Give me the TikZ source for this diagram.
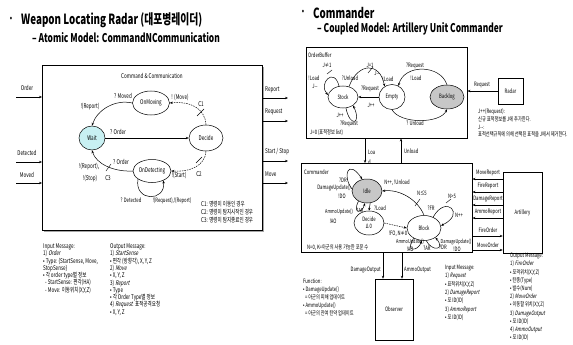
\documentclass[tikz,border=0pt]{standalone}
\usepackage{fontspec}
\setmainfont{Noto Sans CJK KR}[FakeStretch=0.7,ItalicFont=Noto Sans CJK KR,ItalicFeatures={FakeSlant=0.2}]
\usetikzlibrary{shapes.geometric,arrows.meta}
\newcommand\fs[1]{\fontsize{#1}{#1}\selectfont}
\begin{document}
\begin{tikzpicture}[x=1pt,y=-1pt,
 every node/.style={inner sep=0pt},
 st/.style={ellipse,draw,line width=0.5pt,font=\fs{6.5}},
 st2/.style={ellipse,draw,line width=0.5pt,font=\fs{6}},
 lab/.style={font=\fs{6.5}},
 rl/.style={font=\fs{6}},
 arr/.style={line width=0.5pt,-{Stealth[length=3pt,width=2.4pt]}},
 dsh/.style={arr,dash pattern=on 1.5pt off 1pt},
 box/.style={draw,line width=0.5pt,anchor=north west},
 tk/.style={line width=0.4pt},
 blk/.style={align=left,anchor=north west}]
\useasboundingbox (0,0) rectangle (573,345);
% ---------------- titles
\node[font=\fs{10}] (b1) at (11,19) {•};
\node[anchor=west,font=\fs{14}\bfseries] (t1) at (21,20) {Weapon Locating Radar (대포병레이더)};
\node[anchor=west,font=\fs{12}\bfseries] (t1s) at (32,38) {– Atomic Model: CommandNCommunication};
\node[font=\fs{10}] (b2) at (303,12) {•};
\node[anchor=west,font=\fs{14}\bfseries] (t2) at (313,13) {Commander};
\node[anchor=west,font=\fs{12}\bfseries] (t2s) at (317,29) {– Coupled Model: Artillery Unit Commander};
% ---------------- left model
\fill[black!35] (44,67) rectangle (264,232);
\node[box,fill=white,minimum width=220,minimum height=165] (cc) at (42,65) {};
\node[lab] (cctitle) at (152,76) {Command \& Communication};
\node[st,fill={rgb,255:red,200;green,240;blue,242},minimum width=26,minimum height=24] (wait) at (92,138) {Wait};
\node[st,minimum width=37,minimum height=24] (onmov) at (151,103) {OnMoving};
\node[st,minimum width=38,minimum height=23] (ondet) at (152,171) {OnDetecting};
\node[st,minimum width=34,minimum height=26] (decide) at (206,138) {Decide};
% inputs
\coordinate (iO) at (16,97);
\coordinate (iD) at (16,162);
\coordinate (iM) at (16,183);
\draw[arr] (iO) -- (iO -| cc.west);
\draw[arr] (iD) -- (iD -| cc.west);
\draw[arr] (iM) -- (iM -| cc.west);
\node[lab] (lO) at (27,88) {Order};
\node[lab] (lD) at (27,153) {Detected};
\node[lab] (lM) at (27,175) {Moved};
% outputs
\coordinate (oR) at (288,98);
\coordinate (oQ) at (288,121);
\coordinate (oS) at (288,161);
\coordinate (oV) at (288,183);
\draw[arr] (oR -| cc.east) -- (oR);
\draw[arr] (oQ -| cc.east) -- (oQ);
\draw[arr] (oS -| cc.east) -- (oS);
\draw[arr] (oV -| cc.east) -- (oV);
\node[lab,anchor=west] (lR) at (265,90) {Report};
\node[lab,anchor=west] (lQ) at (265,112) {Request};
\node[lab,anchor=west] (lS) at (265,152) {Start / Stop};
\node[lab,anchor=west] (lV) at (265,174) {Move};
% transitions
\draw[arr] (onmov.west) .. controls (115,99) and (97,110) .. (wait.north);
\node[lab] at (123,96) {? Moved};
\node[lab] at (90,107) {!(Report)};
\draw[dsh] (decide.north) .. controls (205,108) and (190,101) .. (onmov.east);
\draw[tk] (197,116) -- (204,109);
\node[lab] at (180,97) {! (Move)};
\node[lab] at (201,104) {C1};
\draw[arr] (wait.east) -- (decide.west);
\node[lab] at (118,132) {? Order};
\draw[arr] (ondet.west) .. controls (114,172) and (96,164) .. (wait.south);
\draw[tk] (106,171) -- (111,164);
\node[lab] at (121,162) {? Order};
\node[lab] at (108,178) {C3};
\node[lab] at (89,167) {!(Report),};
\node[lab] at (90,179) {!(Stop)};
\draw[dsh] (decide.south) .. controls (205,166) and (190,172) .. (ondet.east);
\draw[tk] (196,163) -- (202,157);
\node[lab] at (199,174) {C2};
\node[lab] at (179,175) {!(Start)};
\draw[arr] (ondet.-150) .. controls (134,202) and (166,202) .. (ondet.-40);
\node[font=\fs{6}] at (131,200.5) {? Detected};
\node[font=\fs{6}] at (172,200.5) {!(Request),!(Report)};
\node[lab,anchor=west] at (201,204) {C1: 명령이 이동인 경우};
\node[lab,anchor=west] at (201,212) {C2: 명령이 탐지시작인 경우};
\node[lab,anchor=west] at (201,220) {C3: 명령이 탐지종료인 경우};
% message lists
\node[blk,font=\fontsize{6.5}{7.3}\selectfont] (inmsg) at (43,243.5) {Input Message:\\1) \textit{Order}\\• Type: \{StartSense, Move,\\StopSense\}\\• 각 order type별 정보\\\ \ - StartSense: 편각(HA)\\\ \ - Move: 이동위치(X,Y,Z)};
\node[blk,font=\fontsize{6.5}{7.3}\selectfont] (outmsg) at (110,243.5) {Output Message:\\1) \textit{StartSense}\\• 편각 (방향각), X, Y, Z\\2) \textit{Move}\\• X, Y, Z\\3) \textit{Report}\\• Type\\• 각 Order Type별 정보\\4) \textit{Request}: 표적공격요청\\• X, Y, Z};
% ---------------- right: order buffer
\node[box,minimum width=161,minimum height=91] (ob) at (306,47) {};
\node[rl,anchor=west] at (308,55) {OrderBuffer};
\node[st2,minimum width=30,minimum height=22] (stock) at (343,97) {Stock};
\node[st2,minimum width=26,minimum height=25] (empty) at (392,97) {Empty};
\node[st2,fill=black!22,minimum width=34,minimum height=24] (backlog) at (447,97) {Backlog};
\draw[arr] (empty.west) -- (stock.east);
\node[rl] at (370,89) {?Request};
\node[rl] at (371,105) {J++};
\draw[arr] (stock.60) .. controls (358,62) and (380,62) .. (empty.125);
\draw[tk] (368,73) -- (373,67);
\node[rl] at (350,78) {?Unload};
\node[rl] at (370,65) {J=1};
\node[rl] at (377,73) {J-{}-};
\node[rl] at (388,79) {!Load};
\draw[arr] (stock.110) .. controls (334,66) and (318,84) .. (stock.172);
\draw[tk] (327,74) -- (332,70);
\node[rl] at (327,65) {J≠1};
\node[rl] at (314,78) {!Load};
\node[rl] at (315,86) {J-{}-};
\draw[arr] (stock.-75) .. controls (350,128) and (362,124) .. (stock.-40);
\node[rl] at (340,115) {J++};
\node[rl] at (349,124) {?Request};
\draw[arr] (backlog.north) .. controls (440,64) and (404,64) .. (empty.60);
\node[rl] at (415,66) {?Request};
\node[rl] at (416,78) {!Load};
\draw[arr] (empty.south) .. controls (400,124) and (440,124) .. (backlog.south);
\node[rl] at (415,123) {? Unload};
\node[rl,anchor=west] at (310,133) {J=0 (표적정보 list)};
% radar
\node[draw,line width=0.5pt,minimum width=25,minimum height=26,rl] (radar) at (510.5,91) {Radar};
\draw[arr] (radar.west) -- (radar.west -| ob.east);
\node[rl] at (482,85) {Request};
\node[blk,font=\fontsize{6}{7.7}\selectfont] (jtxt) at (478,108.5) {J++(Request):\\신규 표적정보를 J에 추가한다.\\J-{}-:\\표적선택규칙에 의해 선택된 표적을 J에서 제거한다.};
% ---------------- commander
\node[box,minimum width=171,minimum height=89] (cmd) at (301,163) {};
\coordinate (ld) at (365,0);
\coordinate (ul) at (401,0);
\draw[arr] (ld |- ob.south) -- (ld |- cmd.north);
\draw[arr] (ul |- cmd.north) -- (ul |- ob.south);
\node[rl,anchor=west] at (368,152) {Loa};
\node[rl,anchor=west] at (368,162) {d};
\node[rl,anchor=west] at (404,151) {Unload};
\node[rl,anchor=west] at (304,172) {Commander};
\node[st2,fill=black!22,minimum width=30,minimum height=24] (idle) at (367,191) {Idle};
\node[st2,minimum width=30,minimum height=24,align=center] (dec2) at (369,223) {Decide\\[1pt]Δ 0};
\node[st2,minimum width=34,minimum height=25] (block) at (424,228) {Block};
\draw[arr] (idle.172) .. controls (342,176) and (348,158) .. (idle.112);
\node[rl] at (343,180) {?DR};
\node[rl] at (334,188) {DamageUpdate()};
\node[rl] at (342,196) {!DO};
\draw[arr] (idle.-130) .. controls (352,214) and (362,214) .. (idle.-100);
\node[font=\fs{5.5},anchor=east] at (353,212) {AmmoUpdate()};
\node[font=\fs{5.5}] at (360,210) {?AR};
\node[rl] at (333,221) {!AO};
\draw[arr] (idle.-75) -- (dec2.north);
\node[rl,anchor=west] at (374,208) {?Load};
\draw[dsh] (dec2.east) -- (block.west);
\node[rl] at (398,234) {!FO, N≠0};
\draw[arr] (block.north) .. controls (418,200) and (400,189) .. (idle.east);
\draw[tk] (415,206) -- (420,199);
\node[rl] at (397,183) {N++, !Unload};
\node[rl] at (422,193) {N≤5};
\node[rl] at (431,208) {?FR};
\draw[arr] (block.50) .. controls (446,194) and (466,214) .. (block.8);
\draw[tk] (446,203) -- (451,199);
\node[rl] at (452,196) {N>5};
\node[rl] at (459,215) {N++};
\draw[arr] (block.-135) .. controls (404,252) and (418,252) .. (block.-100);
\node[font=\fs{5.5}] at (410,242) {AmmoUpdate()};
\node[rl] at (410,249.5) {!AO};
\node[rl] at (427,248) {?AR};
\draw[arr] (block.-80) .. controls (432,252) and (446,250) .. (block.-40);
\node[rl] at (443,247) {?DR};
\node[font=\fs{5.5}] at (456,242) {DamageUpdate()};
\node[rl] at (457,249.5) {!DO};
\node[rl,anchor=west] at (307,248) {N=0, K=아군의 사용 가능한 포문 수};
% artillery
\node[draw,line width=0.5pt,minimum width=39,minimum height=81,rl] (art) at (522.5,212.5) {Artillery};
\coordinate (p1) at (0,179);
\coordinate (p2) at (0,192);
\coordinate (p3) at (0,205);
\coordinate (p4) at (0,218);
\coordinate (p5) at (0,236);
\coordinate (p6) at (0,250);
\draw[arr] (art.west |- p1) -- (cmd.east |- p1);
\draw[arr] (art.west |- p2) -- (cmd.east |- p2);
\draw[arr] (art.west |- p3) -- (cmd.east |- p3);
\draw[arr] (art.west |- p4) -- (cmd.east |- p4);
\draw[arr] (cmd.east |- p5) -- (art.west |- p5);
\draw[arr] (cmd.east |- p6) -- (art.west |- p6);
\node[rl] at (488,173) {MoveReport};
\node[rl] at (488,186) {FireReport};
\node[rl] at (488,199) {DamageReport};
\node[rl] at (488,212) {AmmoReport};
\node[rl] at (488,230) {FireOrder};
\node[rl] at (488,245) {MoveOrder};
% observer
\node[draw,line width=0.5pt,minimum width=38,minimum height=61,rl] (obs) at (394,309.5) {Observer};
\coordinate (dx) at (383,0);
\coordinate (ax) at (402,0);
\draw[arr] (dx |- cmd.south) -- (dx |- obs.north);
\draw[arr] (ax |- cmd.south) -- (ax |- obs.north);
\node[rl,anchor=east] at (381,270) {DamageOutput};
\node[rl,anchor=west] at (404,270) {AmmoOutput};
% text blocks
\node[blk,font=\fontsize{6}{7.8}\selectfont] (func) at (303,279) {Function:\\• DamageUpdate()\\\ \ = 아군의 피해 업데이트\\• AmmoUpdate()\\\ \ = 아군의 잔여 탄약 업데이트};
\node[blk,font=\fontsize{6}{8.3}\selectfont] (rin) at (445,265) {Input Message:\\1) \textit{Request}\\• 표적위치(X,Y,Z)\\2) \textit{DamageReport}\\• 포 ID(ID)\\3) \textit{AmmoReport}\\• 포 ID(ID)};
\node[blk,font=\fontsize{6}{8.2}\selectfont] (rout) at (510,253) {Output Message:\\1) \textit{FireOrder}\\• 포격위치(X,Y,Z)\\• 탄종(Type)\\• 발수(Num)\\2) \textit{MoveOrder}\\• 이동할 위치(X,Y,Z)\\3) \textit{DamageOutput}\\• 포 ID(ID)\\4) \textit{AmmoOutput}\\• 포 ID(ID)};
\end{tikzpicture}
\end{document}
